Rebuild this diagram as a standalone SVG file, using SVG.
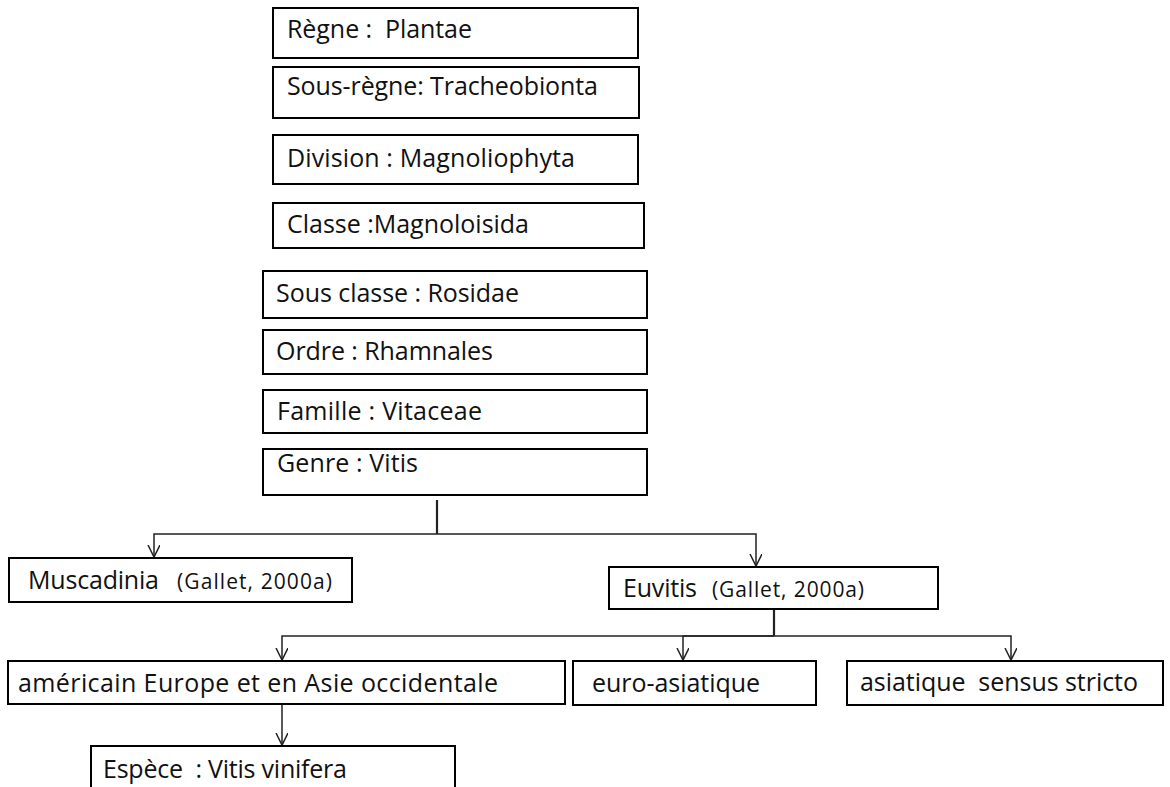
<svg xmlns="http://www.w3.org/2000/svg" width="1170" height="787" viewBox="0 0 1170 787">
<style>
.box{fill:#fff;stroke:#000;stroke-width:2}
.t{font-family:"Open Sans","Noto Sans","Liberation Sans",sans-serif;font-size:25px;fill:#111;white-space:pre}
.s{font-size:21px}
.c{fill:none;stroke:#222;stroke-width:1.5}
</style>
<defs>
<marker id="arr" markerWidth="14" markerHeight="14" viewBox="0 0 14 14" refX="12" refY="6" orient="auto" markerUnits="userSpaceOnUse">
<path d="M0,0 L12,6 L0,12" fill="none" stroke="#222" stroke-width="1.5"/>
</marker>
</defs>
<rect width="1170" height="787" fill="#fff"/>
<g id="connectors">
<path class="c" d="M437,500 V534" style="stroke-width:2.2"/>
<path class="c" d="M437,534 H154 V557" marker-end="url(#arr)"/>
<path class="c" d="M437,534 H756 V566" marker-end="url(#arr)"/>
<path class="c" d="M774,610 V636" style="stroke-width:2.2"/>
<path class="c" d="M774,636 H282 V660" marker-end="url(#arr)"/>
<path class="c" d="M774,636 H683 V660" marker-end="url(#arr)"/>
<path class="c" d="M774,636 H1011 V660" marker-end="url(#arr)"/>
<path class="c" d="M282,704 V745" marker-end="url(#arr)"/>
</g>
<g id="regne"><rect class="box" x="273" y="8" width="365" height="50"/><text class="t" xml:space="preserve" x="287" y="38" textLength="185">Règne :  Plantae</text></g>
<g id="sous-regne"><rect class="box" x="273" y="67" width="366" height="51"/><text class="t" x="287" y="95" textLength="311">Sous-règne: Tracheobionta</text></g>
<g id="division"><rect class="box" x="273" y="135" width="365" height="49"/><text class="t" x="287" y="167" textLength="288">Division : Magnoliophyta</text></g>
<g id="classe"><rect class="box" x="273" y="203" width="371" height="45"/><text class="t" x="287" y="233" textLength="242">Classe :Magnoloisida</text></g>
<g id="sous-classe"><rect class="box" x="263" y="271" width="384" height="47"/><text class="t" x="276" y="302" textLength="243">Sous classe : Rosidae</text></g>
<g id="ordre"><rect class="box" x="263" y="330" width="384" height="44"/><text class="t" x="276" y="360" textLength="217">Ordre : Rhamnales</text></g>
<g id="famille"><rect class="box" x="263" y="390" width="384" height="43"/><text class="t" x="277" y="420" textLength="205">Famille : Vitaceae</text></g>
<g id="genre"><rect class="box" x="263" y="449" width="384" height="46"/><text class="t" x="277" y="472" textLength="141">Genre : Vitis</text></g>
<g id="muscadinia"><rect class="box" x="9" y="558" width="343" height="44"/><text class="t" x="28" y="589" textLength="131">Muscadinia</text><text class="t s" x="177" y="589" textLength="155">(Gallet, 2000a)</text></g>
<g id="euvitis"><rect class="box" x="609" y="567" width="329" height="42"/><text class="t" x="623" y="597" textLength="74">Euvitis</text><text class="t s" x="712" y="597" textLength="152">(Gallet, 2000a)</text></g>
<g id="americain"><rect class="box" x="8" y="661" width="557" height="43"/><text class="t" x="18" y="692" textLength="480">américain Europe et en Asie occidentale</text></g>
<g id="euro-asiatique"><rect class="box" x="573" y="661" width="243" height="44"/><text class="t" x="592" y="692" textLength="168">euro-asiatique</text></g>
<g id="asiatique"><rect class="box" x="847" y="661" width="316" height="44"/><text class="t" xml:space="preserve" x="860" y="691" textLength="278">asiatique  sensus stricto</text></g>
<g id="espece"><rect class="box" x="91" y="746" width="364" height="50"/><text class="t" xml:space="preserve" x="103" y="778" textLength="244">Espèce  : Vitis vinifera</text></g>
</svg>
